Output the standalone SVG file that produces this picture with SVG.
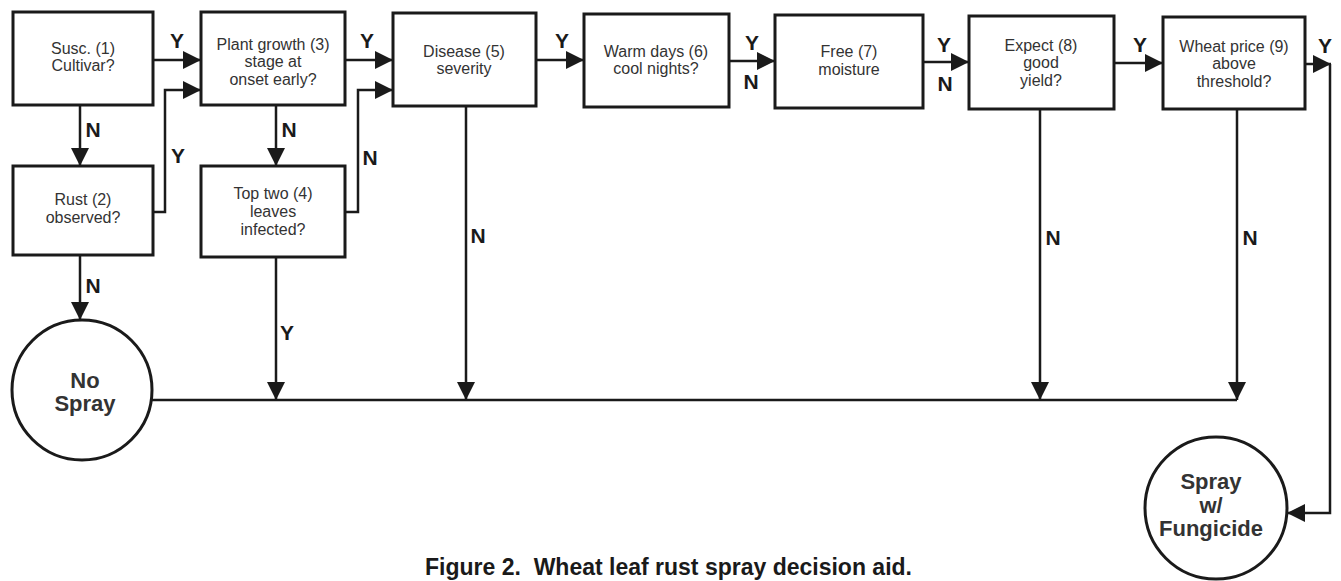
<svg xmlns="http://www.w3.org/2000/svg" width="1341" height="581" viewBox="0 0 1341 581">
<defs>
<style>
.box{fill:#fff;stroke:#1a1a1a;stroke-width:3}
.t{font-family:"Liberation Sans",Arial,sans-serif;font-size:16px;fill:#333;text-anchor:middle}
.tb{font-family:"Liberation Sans",Arial,sans-serif;font-size:22px;font-weight:bold;fill:#333;text-anchor:middle}
.lb{font-family:"Liberation Sans",Arial,sans-serif;font-size:21px;font-weight:bold;fill:#1a1a1a;text-anchor:middle}
.c{fill:none;stroke:#1a1a1a;stroke-width:2.5}
.a{marker-end:url(#ah)}
.cap{font-family:"Liberation Sans",Arial,sans-serif;font-size:23px;font-weight:bold;fill:#1a1a1a}
</style>
<marker id="ah" markerUnits="userSpaceOnUse" markerWidth="18" markerHeight="18" viewBox="0 0 18 18" refX="18" refY="9" orient="auto">
<path d="M0,0 L18,9 L0,18 Z" fill="#1a1a1a"/>
</marker>
</defs>
<rect width="1341" height="581" fill="#fff"/>
<g id="connectors">
<path class="c a" d="M153,60 H201"/>
<path class="c a" d="M153,212 H165 V90 H201"/>
<path class="c a" d="M80,105 V166"/>
<path class="c a" d="M276,105 V166"/>
<path class="c a" d="M345,212 H358 V90 H393"/>
<path class="c a" d="M345,60 H393"/>
<path class="c a" d="M536,60 H584"/>
<path class="c a" d="M729,61 H775"/>
<path class="c a" d="M923,62 H969"/>
<path class="c a" d="M1114,63 H1163"/>
<path class="c a" d="M1305,64 H1331"/>
<path class="c a" d="M1330,64 V513 H1287"/>
<path class="c a" d="M80,255 V320"/>
<path class="c a" d="M276,257 V400"/>
<path class="c a" d="M466,106 V400"/>
<path class="c a" d="M1040,109 V400"/>
<path class="c a" d="M1237,109 V400"/>
<path class="c" d="M152,400 H1237"/>
<text class="lb" x="177" y="48">Y</text>
<text class="lb" x="178" y="163">Y</text>
<text class="lb" x="93" y="137">N</text>
<text class="lb" x="289" y="137">N</text>
<text class="lb" x="370" y="165">N</text>
<text class="lb" x="367" y="48">Y</text>
<text class="lb" x="562" y="48">Y</text>
<text class="lb" x="752" y="50">Y</text>
<text class="lb" x="751" y="89">N</text>
<text class="lb" x="944" y="52">Y</text>
<text class="lb" x="945" y="91">N</text>
<text class="lb" x="1140" y="52">Y</text>
<text class="lb" x="1325" y="53">Y</text>
<text class="lb" x="93" y="293">N</text>
<text class="lb" x="287" y="340">Y</text>
<text class="lb" x="478" y="243">N</text>
<text class="lb" x="1053" y="245">N</text>
<text class="lb" x="1250" y="245">N</text>
</g>
<g id="n1"><rect class="box" x="13" y="12" width="140" height="93"/><text class="t" x="83" y="54">Susc. (1)</text><text class="t" x="83" y="71">Cultivar?</text></g>
<g id="n2"><rect class="box" x="13" y="166" width="140" height="89"/><text class="t" x="83" y="205">Rust (2)</text><text class="t" x="83" y="223">observed?</text></g>
<g id="n3"><rect class="box" x="201" y="12" width="144" height="93"/><text class="t" x="273" y="50">Plant growth (3)</text><text class="t" x="273" y="67">stage at</text><text class="t" x="273" y="85">onset early?</text></g>
<g id="n4"><rect class="box" x="201" y="166" width="144" height="91"/><text class="t" x="273" y="199">Top two (4)</text><text class="t" x="273" y="217">leaves</text><text class="t" x="273" y="235">infected?</text></g>
<g id="n5"><rect class="box" x="393" y="13" width="143" height="93"/><text class="t" x="464" y="57">Disease (5)</text><text class="t" x="464" y="74">severity</text></g>
<g id="n6"><rect class="box" x="584" y="14" width="145" height="93"/><text class="t" x="656" y="57">Warm days (6)</text><text class="t" x="656" y="74">cool nights?</text></g>
<g id="n7"><rect class="box" x="775" y="15" width="148" height="93"/><text class="t" x="849" y="57">Free (7)</text><text class="t" x="849" y="75">moisture</text></g>
<g id="n8"><rect class="box" x="969" y="16" width="145" height="93"/><text class="t" x="1041" y="51">Expect (8)</text><text class="t" x="1041" y="68">good</text><text class="t" x="1041" y="86">yield?</text></g>
<g id="n9"><rect class="box" x="1163" y="17" width="142" height="92"/><text class="t" x="1234" y="52">Wheat price (9)</text><text class="t" x="1234" y="69">above</text><text class="t" x="1234" y="87">threshold?</text></g>
<g id="nospray"><circle class="box" cx="82" cy="390" r="70" stroke-width="2.5"/><text class="tb" x="85" y="388">No</text><text class="tb" x="85" y="411">Spray</text></g>
<g id="spray"><circle class="box" cx="1216" cy="508" r="71" stroke-width="2.5"/><text class="tb" x="1211" y="489">Spray</text><text class="tb" x="1211" y="513">w/</text><text class="tb" x="1211" y="536">Fungicide</text></g>
<text class="cap" x="425" y="575">Figure 2.&#160; Wheat leaf rust spray decision aid.</text>
</svg>
